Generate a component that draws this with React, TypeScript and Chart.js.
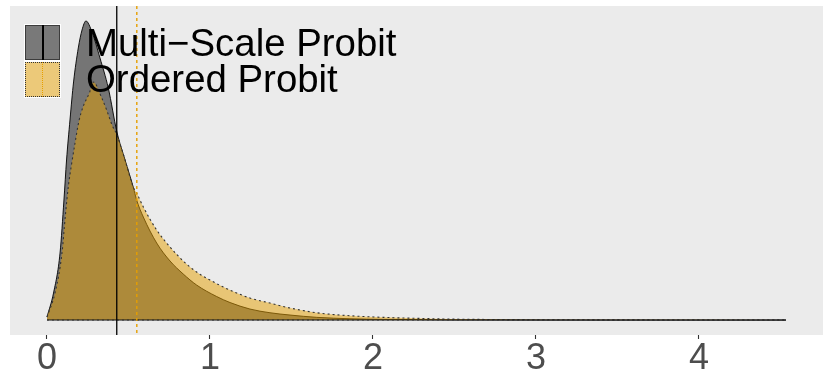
import React, { useEffect, useRef } from "react";
import { Chart, registerables } from "chart.js";

Chart.register(...registerables);

// ---- data ----
const SERIES_NAMES = ["Multi\u2212Scale Probit", "Ordered Probit"];

const MULTI_X = [0, 0.04, 0.08, 0.104, 0.12, 0.141, 0.163, 0.192, 0.215, 0.239, 0.276, 0.325, 0.376, 0.429, 0.479, 0.529, 0.55, 0.591, 0.673, 0.755, 0.836, 0.918, 1.041, 1.123, 1.245, 1.368, 1.491, 1.655, 1.859, 2.061, 2.472, 3.086, 4.534];
const MULTI_Y = [0.03, 0.27, 0.67, 1.2, 1.6, 2.0, 2.38, 2.72, 2.9, 2.99, 2.88, 2.62, 2.32, 1.88, 1.6, 1.33, 1.2, 1.03, 0.77, 0.59, 0.46, 0.35, 0.235, 0.175, 0.11, 0.073, 0.05, 0.027, 0.013, 0.007, 0.002, 0.0005, 0];

const ORDERED_X = [0, 0.049, 0.092, 0.113, 0.132, 0.15, 0.172, 0.196, 0.223, 0.26, 0.284, 0.336, 0.366, 0.399, 0.429, 0.479, 0.529, 0.55, 0.591, 0.673, 0.755, 0.836, 0.918, 1.0, 1.082, 1.164, 1.245, 1.368, 1.491, 1.655, 1.859, 2.063, 2.268, 2.472, 2.779, 3.393, 4.534];
const ORDERED_Y = [0.03, 0.27, 0.67, 1.05, 1.35, 1.55, 1.77, 1.99, 2.14, 2.27, 2.38, 2.22, 2.1, 1.95, 1.85, 1.6, 1.33, 1.27, 1.13, 0.9, 0.73, 0.59, 0.48, 0.4, 0.33, 0.27, 0.22, 0.17, 0.12, 0.073, 0.043, 0.027, 0.017, 0.01, 0.005, 0.002, 0];

const MEANS = [0.428, 0.551]; // vertical reference lines (Multi, Ordered)
const X_TICKS = [0, 1, 2, 3, 4];
const X_RANGE = [-0.227, 4.761];
const Y_RANGE = [-0.1495, 3.1395];
const DATA_EXTENT = [0, 4.534];

const FONT = "'Liberation Sans', Arial, Helvetica, sans-serif";

const toPoints = (xs: number[], ys: number[]) => xs.map((x, i) => ({ x, y: ys[i] }));

const panelBg = {
  id: "panelBg",
  beforeDraw(chart: any) {
    const { ctx, chartArea } = chart;
    ctx.save();
    ctx.fillStyle = "#EBEBEB";
    ctx.fillRect(chartArea.left, chartArea.top, chartArea.right - chartArea.left, chartArea.bottom - chartArea.top);
    ctx.restore();
  },
};

const meanLines = {
  id: "meanLines",
  afterDatasetsDraw(chart: any) {
    const { ctx, chartArea, scales } = chart;
    const xs = scales.x;
    ctx.save();
    let px = xs.getPixelForValue(MEANS[0]);
    ctx.strokeStyle = "#000000";
    ctx.lineWidth = 1.3;
    ctx.setLineDash([]);
    ctx.beginPath();
    ctx.moveTo(px, chartArea.top);
    ctx.lineTo(px, chartArea.bottom);
    ctx.stroke();
    px = xs.getPixelForValue(MEANS[1]);
    ctx.strokeStyle = "#E69F00";
    ctx.lineWidth = 1.4;
    ctx.setLineDash([3, 3]);
    ctx.beginPath();
    ctx.moveTo(px, chartArea.top);
    ctx.lineTo(px, chartArea.bottom);
    ctx.stroke();
    ctx.restore();
  },
};

export default function App() {
  const ref = useRef<HTMLCanvasElement | null>(null);

  useEffect(() => {
    if (!ref.current) return;
    const baseline = [
      { x: DATA_EXTENT[0], y: 0 },
      { x: DATA_EXTENT[1], y: 0 },
    ];
    const chart = new Chart(ref.current, {
      type: "line",
      data: {
        datasets: [
          {
            label: SERIES_NAMES[0],
            data: toPoints(MULTI_X, MULTI_Y),
            borderColor: "#000000",
            borderWidth: 0.9,
            backgroundColor: "rgba(0,0,0,0.5)",
            fill: "origin",
            pointRadius: 0,
            cubicInterpolationMode: "monotone",
            order: 3,
          },
          {
            label: SERIES_NAMES[1],
            data: toPoints(ORDERED_X, ORDERED_Y),
            borderColor: "#333333",
            borderWidth: 1.1,
            borderDash: [2, 3],
            backgroundColor: "rgba(230,159,0,0.5)",
            fill: "origin",
            pointRadius: 0,
            cubicInterpolationMode: "monotone",
            order: 2,
          },
          {
            label: "base1",
            data: baseline,
            borderColor: "#000000",
            borderWidth: 0.9,
            fill: false,
            pointRadius: 0,
            order: 1,
          },
          {
            label: "base2",
            data: baseline,
            borderColor: "#333333",
            borderWidth: 1.1,
            borderDash: [2, 3],
            fill: false,
            pointRadius: 0,
            order: 0,
          },
        ],
      },
      options: {
        responsive: false,
        animation: false,
        layout: { padding: { left: 10, right: 7, top: 6, bottom: 0 } },
        plugins: { legend: { display: false }, tooltip: { enabled: false } },
        scales: {
          x: {
            type: "linear",
            min: X_RANGE[0],
            max: X_RANGE[1],
            afterBuildTicks: (s: any) => {
              s.ticks = X_TICKS.map((v) => ({ value: v }));
            },
            afterFit: (s: any) => {
              s.height = 45;
            },
            grid: { drawOnChartArea: false, drawTicks: true, tickLength: 4, tickColor: "#333333", tickWidth: 1.1 },
            border: { display: false },
            ticks: {
              color: "#4D4D4D",
              font: { family: FONT, size: 36 },
              padding: -2,
              maxRotation: 0,
              autoSkip: false,
              callback: (v: any) => String(v),
            },
          },
          y: { display: false, min: Y_RANGE[0], max: Y_RANGE[1] },
        },
      },
      plugins: [panelBg, meanLines],
    });
    return () => chart.destroy();
  }, []);

  const keyBase: React.CSSProperties = {
    position: "absolute",
    left: 24,
    width: 37,
    height: 37,
    boxSizing: "border-box",
    background: "#F2F2F2",
    border: "1px solid #FFFFFF",
  };
  const textStyle: React.CSSProperties = {
    position: "absolute",
    left: 86,
    fontFamily: FONT,
    fontSize: 38.4,
    lineHeight: "36px",
    height: 36,
    color: "#000000",
    whiteSpace: "nowrap",
  };

  return (
    <div style={{ position: "fixed", left: 0, top: 0, width: 830, height: 380, background: "#FFFFFF" }}>
      <canvas ref={ref} width={830} height={380} style={{ display: "block" }} />
      <div style={{ ...keyBase, top: 24 }}>
        <div style={{ position: "absolute", inset: 0, background: "rgba(0,0,0,0.5)", border: "1px solid rgba(0,0,0,0.5)", boxSizing: "border-box" }} />
        <div style={{ position: "absolute", left: 17, top: 0, bottom: 0, width: 1.5, background: "#000000" }} />
      </div>
      <div style={{ ...keyBase, top: 60.5 }}>
        <div style={{ position: "absolute", inset: 0, background: "rgba(230,159,0,0.5)", border: "1px dotted #333333", boxSizing: "border-box" }} />
        <div style={{ position: "absolute", left: 17, top: 0, bottom: 0, borderLeft: "1.5px dotted #E69F00" }} />
      </div>
      <div style={{ ...textStyle, top: 25.3 }}>{SERIES_NAMES[0]}</div>
      <div style={{ ...textStyle, top: 61.3 }}>{SERIES_NAMES[1]}</div>
    </div>
  );
}
